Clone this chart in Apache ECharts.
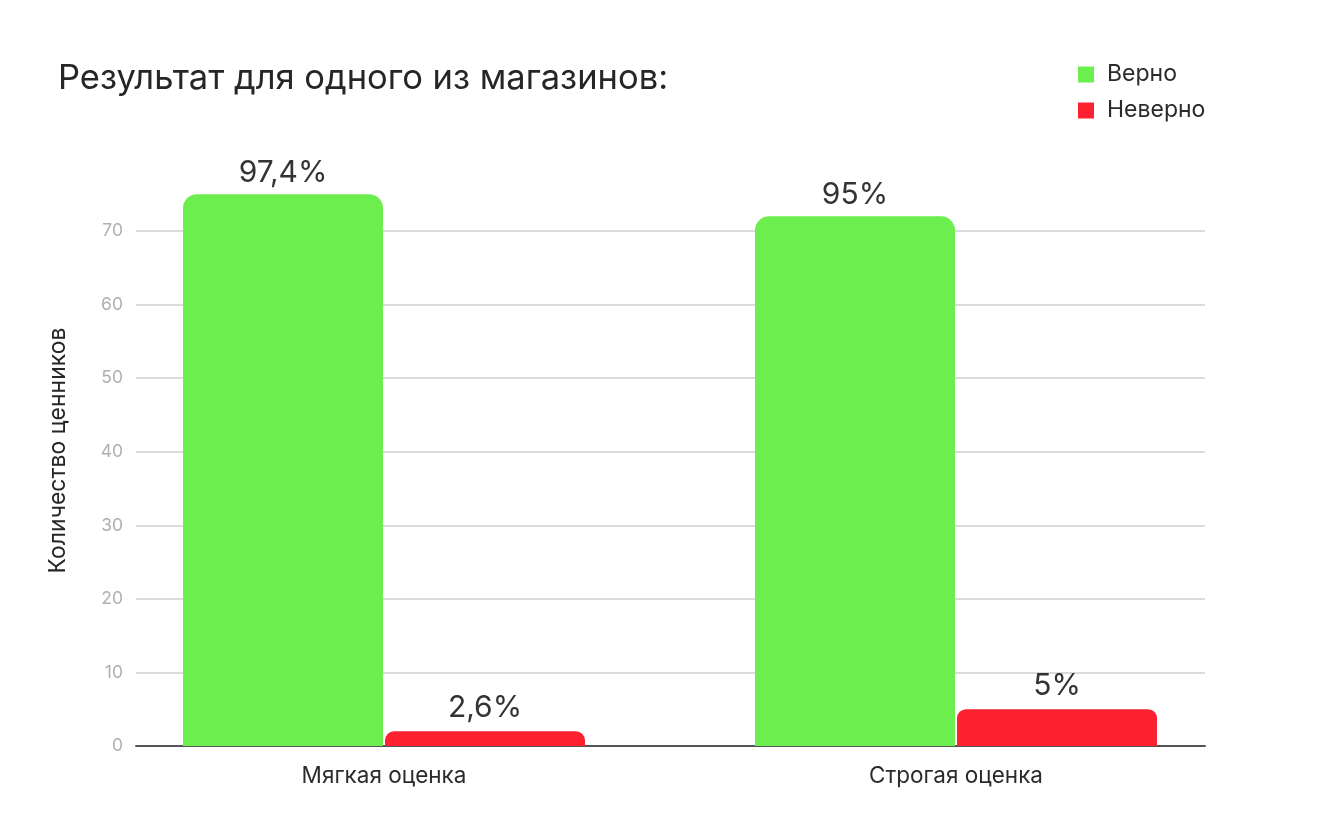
<!DOCTYPE html>
<html>
<head>
<meta charset="utf-8">
<script src="https://cdn.jsdelivr.net/npm/echarts@6/dist/echarts.min.js"></script>
<style>
  html, body { margin: 0; padding: 0; background: #fff; }
  #chart { width: 1340px; height: 837px; }
</style>
</head>
<body>
<div id="chart"></div>
<script>
var categories = ['Мягкая оценка', 'Строгая оценка'];
var correct = [75, 72];
var wrong = [2, 5];
var correctLabels = ['97,4%', '95%'];
var wrongLabels = ['2,6%', '5%'];
var yTicks = [0, 10, 20, 30, 40, 50, 60, 70];

var font = 'Inter, "Noto Sans", sans-serif';
var chart = echarts.init(document.getElementById('chart'));

var option = {
    backgroundColor: '#fff',
    textStyle: { fontFamily: font },
    title: {
        text: 'Результат для одного из магазинов:',
        left: 53,
        top: 56,
        textStyle: { fontFamily: font, fontSize: 34.5, fontWeight: 'normal', color: '#262626' }
    },
    legend: {
        orient: 'vertical',
        left: 1073,
        top: 58,
        icon: 'rect',
        itemWidth: 16,
        itemHeight: 16,
        itemGap: 13,
        textStyle: { fontFamily: font, fontSize: 23, color: '#2b2b2b', padding: [0, 0, 0, 8] },
        data: ['Верно', 'Неверно']
    },
    grid: [
        { left: 136, right: 135, top: 231, bottom: 91 },
        { left: 98, right: 98, top: 231, bottom: 91 }
    ],
    xAxis: [
        {
            gridIndex: 0, type: 'value', min: 0, max: 1,
            axisLine: { show: true, onZero: false, lineStyle: { color: '#555', width: 2 } },
            axisTick: { show: false }, axisLabel: { show: false }, splitLine: { show: false }
        },
        {
            gridIndex: 1, type: 'category', data: categories,
            axisLine: { show: false }, axisTick: { show: false },
            axisLabel: { fontFamily: font, fontSize: 22.5, color: '#2b2b2b', margin: 19 }
        }
    ],
    yAxis: [
        {
            gridIndex: 0, type: 'value', min: yTicks[0], max: yTicks[yTicks.length - 1], interval: 10,
            name: 'Количество ценников',
            nameLocation: 'middle',
            nameGap: 66,
            nameTextStyle: { fontFamily: font, fontSize: 23, color: '#262626', padding: [0, 0, 0, 76] },
            axisLine: { show: false }, axisTick: { show: false },
            axisLabel: { fontFamily: font, fontSize: 17.5, color: '#b0b0b0', margin: 13 },
            splitLine: { lineStyle: { color: '#cfcfcf', width: 1.5 } }
        },
        {
            gridIndex: 1, type: 'value', min: yTicks[0], max: yTicks[yTicks.length - 1],
            show: false, splitLine: { show: false }
        }
    ],
    series: [
        {
            name: 'Верно', type: 'bar', xAxisIndex: 1, yAxisIndex: 1,
            data: correct, barWidth: 200, barGap: '1%', clip: false,
            itemStyle: { color: '#6cee4f', borderRadius: [14, 14, 0, 0] },
            label: {
                show: true, position: 'top', distance: 6,
                fontFamily: font, fontSize: 30, color: '#333',
                formatter: function (p) { return correctLabels[p.dataIndex]; }
            }
        },
        {
            name: 'Неверно', type: 'bar', xAxisIndex: 1, yAxisIndex: 1,
            data: wrong, barWidth: 200, barGap: '1%', clip: false,
            itemStyle: { color: '#fe2230', borderRadius: [9, 9, 0, 0] },
            label: {
                show: true, position: 'top', distance: 8,
                fontFamily: font, fontSize: 30, color: '#333',
                formatter: function (p) { return wrongLabels[p.dataIndex]; }
            }
        }
    ]
};

chart.setOption(option);
</script>
</body>
</html>
